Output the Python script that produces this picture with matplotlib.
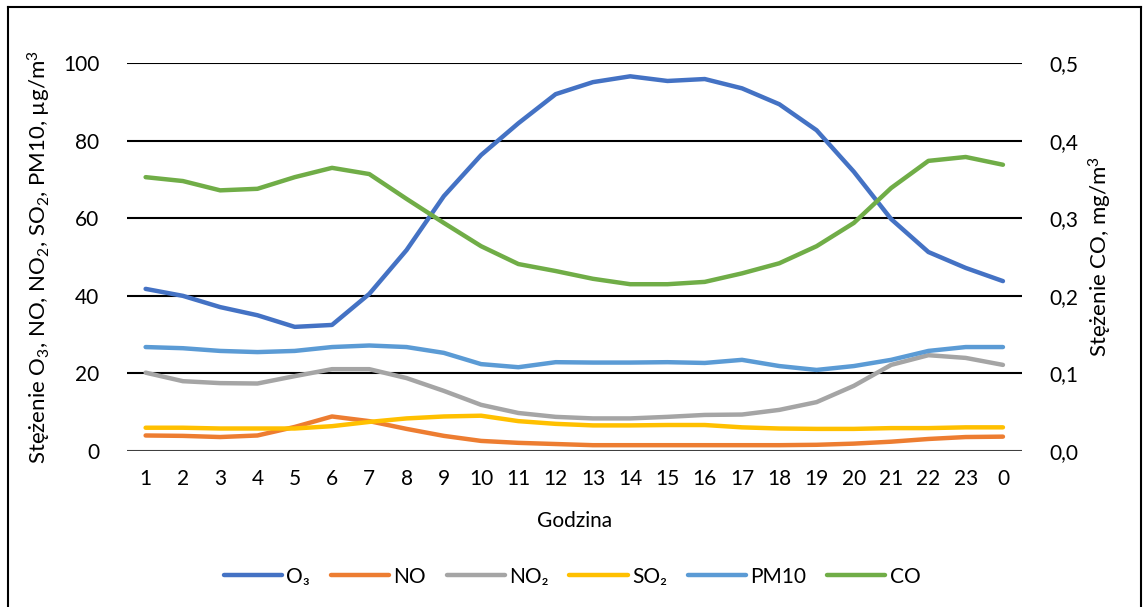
import numpy as np
import matplotlib.pyplot as plt
from matplotlib.lines import Line2D

plt.rcParams['font.family'] = ['Lato', 'DejaVu Sans']
plt.rcParams['mathtext.fontset'] = 'custom'
plt.rcParams['mathtext.rm'] = 'Lato'
plt.rcParams['mathtext.it'] = 'Lato'

# Hours of the day
godziny = ['1', '2', '3', '4', '5', '6', '7', '8', '9', '10', '11', '12',
           '13', '14', '15', '16', '17', '18', '19', '20', '21', '22', '23', '0']

# Mean concentrations, ug/m3
o3 = [41.8, 40.0, 37.1, 35.0, 32.0, 32.5, 40.5, 51.8, 65.7, 76.3, 84.5, 92.0,
      95.1, 96.6, 95.4, 95.9, 93.5, 89.4, 82.7, 72.0, 59.8, 51.3, 47.2, 43.8]
no = [4.0, 3.9, 3.6, 4.0, 6.2, 8.9, 7.7, 5.7, 3.9, 2.6, 2.1, 1.8,
      1.5, 1.5, 1.5, 1.5, 1.5, 1.5, 1.6, 1.9, 2.4, 3.1, 3.6, 3.7]
no2 = [20.2, 18.0, 17.5, 17.4, 19.3, 21.1, 21.1, 18.8, 15.5, 11.9, 9.8, 8.8,
       8.4, 8.4, 8.8, 9.3, 9.4, 10.6, 12.6, 16.8, 22.2, 24.7, 24.0, 22.2]
so2 = [6.0, 6.0, 5.8, 5.8, 5.8, 6.4, 7.5, 8.4, 8.9, 9.1, 7.7, 7.0,
       6.6, 6.6, 6.7, 6.7, 6.1, 5.8, 5.7, 5.7, 5.9, 5.9, 6.1, 6.1]
pm10 = [26.8, 26.5, 25.8, 25.5, 25.8, 26.8, 27.2, 26.8, 25.3, 22.4, 21.6, 22.9,
        22.8, 22.8, 22.9, 22.7, 23.5, 21.9, 20.9, 21.9, 23.5, 25.8, 26.8, 26.8]
# CO, mg/m3 (right axis)
co = [0.353, 0.348, 0.336, 0.338, 0.353, 0.365, 0.357, 0.325, 0.294, 0.264, 0.241, 0.232,
      0.222, 0.215, 0.215, 0.218, 0.229, 0.242, 0.264, 0.294, 0.339, 0.374, 0.379, 0.369]

x = np.arange(1, len(godziny) + 1)
lw = 3.2
fs = 15

fig = plt.figure(figsize=(11.44, 6.07), dpi=100)
ax = fig.add_axes([0.111, 0.257, 0.782, 0.639])
ax2 = ax.twinx()

l1, = ax.plot(x, o3, color='#4472C4', lw=lw, solid_capstyle='round', zorder=3)
l2, = ax.plot(x, no, color='#ED7D31', lw=lw, solid_capstyle='round', zorder=3)
l3, = ax.plot(x, no2, color='#A5A5A5', lw=lw, solid_capstyle='round', zorder=3)
l4, = ax.plot(x, so2, color='#FFC000', lw=lw, solid_capstyle='round', zorder=3)
l5, = ax.plot(x, pm10, color='#5B9BD5', lw=lw, solid_capstyle='round', zorder=3)
l6, = ax2.plot(x, co, color='#70AD47', lw=lw, solid_capstyle='round', zorder=3)

ax.set_xlim(0.5, 24.5)
ax.set_ylim(0, 100)
ax2.set_ylim(0, 0.5)
ax.set_xticks(x)
ax.set_xticklabels(godziny)
ax.set_yticks(np.arange(0, 101, 20))
ax2.set_yticks(np.arange(0, 0.51, 0.1))
ax2.set_yticklabels([f'{v:.1f}'.replace('.', ',') for v in np.arange(0, 0.51, 0.1)])

for y in range(20, 101, 20):
    ax.axhline(y, color='black', lw=1.5, zorder=1)
ax.axhline(0, color='#404040', lw=1.5, zorder=1)

for a in (ax, ax2):
    for s in a.spines.values():
        s.set_visible(False)
    a.tick_params(length=0, labelsize=fs, colors='black')
ax.tick_params(axis='x', pad=13)
ax.tick_params(axis='y', pad=20)
ax2.tick_params(axis='y', pad=20)

ax.set_xlabel('Godzina', fontsize=fs, labelpad=16)
ax.set_ylabel(r'Stężenie O$_3$, NO, NO$_2$, SO$_2$, PM10, µg/m$^3$', fontsize=16, labelpad=7)
ax2.set_ylabel(r'Stężenie CO, mg/m$^3$', fontsize=16, labelpad=6)

fig.legend([l1, l2, l3, l4, l5, l6], ['O₃', 'NO', 'NO₂', 'SO₂', 'PM10', 'CO'],
           loc='center', bbox_to_anchor=(0.5, 0.05), ncol=6, frameon=False,
           fontsize=fs, handlelength=2.8, handletextpad=0.2, columnspacing=1.0)

# outer frame
fig.add_artist(Line2D([0.007, 0.007], [0.0, 0.988], color='black', lw=1.5))
fig.add_artist(Line2D([0.007, 0.997], [0.988, 0.988], color='black', lw=1.5))
fig.add_artist(Line2D([0.997, 0.997], [0.0, 0.988], color='black', lw=1.5))

fig.savefig('out.png', dpi=100)
